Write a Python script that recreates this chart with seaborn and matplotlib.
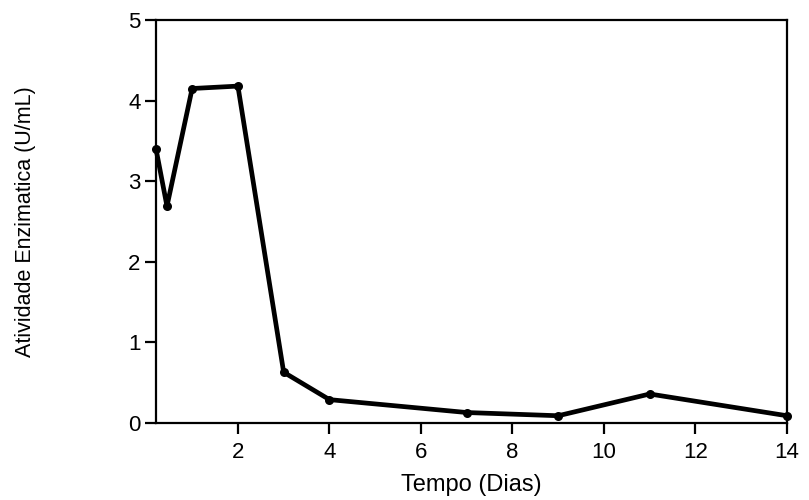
import matplotlib
matplotlib.use("Agg")
import matplotlib.pyplot as plt
import seaborn as sns
import pandas as pd

tempo = [0.21, 0.45, 1, 2, 3, 4, 7, 9, 11, 14]
atividade = [3.40, 2.69, 4.15, 4.18, 0.63, 0.29, 0.13, 0.09, 0.36, 0.09]
xticks = [2, 4, 6, 8, 10, 12, 14]
yticks = [0, 1, 2, 3, 4, 5]

sns.set_theme(style="ticks")
plt.rcParams['font.family'] = ['Liberation Sans', 'DejaVu Sans']
plt.rcParams['text.color'] = 'black'
plt.rcParams['axes.labelcolor'] = 'black'

df = pd.DataFrame({"Tempo": tempo, "Atividade": atividade})

fig = plt.figure(figsize=(8.09, 5.0), dpi=100)
ax = fig.add_axes([156/809, 77/500, (787-156)/809, (423-20)/500])
sns.lineplot(data=df, x="Tempo", y="Atividade", ax=ax, color="black",
             linewidth=3.4, marker="o", markersize=6.5, markeredgewidth=0,
             clip_on=False)

ax.set_xlim(0.21, 14)
ax.set_ylim(0, 5)
ax.set_xticks(xticks)
ax.set_yticks(yticks)
for s in ax.spines.values():
    s.set_linewidth(1.6)
    s.set_color("black")
ax.tick_params(axis="both", direction="out", length=8, width=1.6, labelsize=16,
               colors="black")
ax.tick_params(axis="y", pad=3)
ax.tick_params(axis="x", pad=6)
ax.set_xlabel("Tempo (Dias)", fontsize=17)
ax.set_ylabel("Atividade Enzimatica (U/mL)", fontsize=15.5)
ax.xaxis.set_label_coords(0.5, (423 - 474) / 403)
ax.yaxis.set_label_coords((36 - 156) / 631, 0.5)

fig.savefig("out.png", dpi=100)
